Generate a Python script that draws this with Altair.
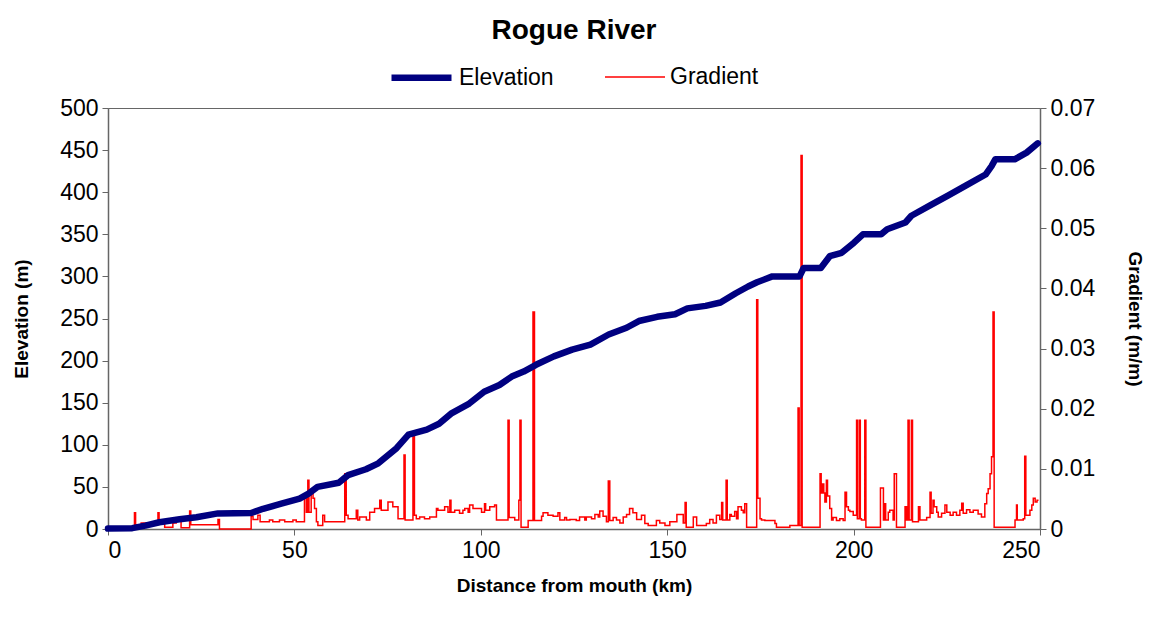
import altair as alt
import pandas as pd

# Elevation profile (km from mouth, metres)
elev_km = [0, 6.5, 10, 13.8, 19.2, 23.7, 29.5, 38.4, 41.6, 46.5, 51.4, 53.8, 56.2, 61.9,
           64.4, 69.2, 72.5, 77.4, 80.6, 85.5, 88.8, 92, 96.9, 100.9, 105, 108.3, 111.5,
           114.8, 119.6, 124.5, 129.4, 134.3, 139.1, 142.4, 147.3, 152.1, 155.4, 160.3,
           164.3, 168.4, 171.7, 174.1, 178.2, 185.5, 186.6, 191.2, 193.6, 196.8, 200.1,
           202.5, 207.4, 209, 213.9, 215.5, 220.4, 225.3, 230.2, 235.4, 237, 238, 243.2,
           246.4, 249.4]
elev_m = [0.5, 1, 4, 8, 11.5, 14, 18.5, 19, 24, 30, 36, 42, 50, 55,
          64, 71, 78, 96, 112, 118, 125, 137, 149, 163, 171, 181, 187,
          195, 205, 213, 219, 231, 239, 247, 252, 255, 262, 265,
          269, 280, 288, 293, 300, 300, 310, 310, 324, 328, 340,
          350, 350, 356, 364, 372, 384, 396, 408, 421, 431, 439, 439,
          447, 458]

# Gradient (m/m), stepwise by reach start (km)
grad_km = [0, 7.1, 7.4, 8.9, 13.4, 13.7, 15.2, 17.4, 18.3, 19.6, 21.9, 22.2, 29.5, 29.9,
           38.4, 38.9, 40.2, 40.8, 43.3, 44.2, 46.0, 47.4, 49.6, 50.5, 52.7, 53.2, 53.6,
           53.9, 54.5, 55.0, 55.4, 55.9, 56.3, 57.6, 58.1, 63.5, 63.9, 64.4, 66.6, 67.0,
           67.5, 69.3, 70.2, 71.5, 72.9, 73.3, 75.1, 76.4, 77.8, 79.4, 79.7, 81.8, 82.2,
           82.7, 83.6, 84.9, 86.3, 88.1, 88.5, 90.3, 91.2, 91.7, 92.0, 93.0, 94.3, 95.2,
           95.7, 96.6, 97.0, 97.9, 100.2, 101.0, 101.3, 102.4, 103.7, 104.2, 107.3, 107.6,
           109.1, 110.2, 110.5, 110.8, 112.7, 114.0, 114.4, 116.3, 116.7, 118.0, 119.4,
           120.7, 121.2, 122.5, 123.0, 123.9, 125.6, 126.5, 127.9, 128.3, 129.7, 130.6,
           131.5, 131.9, 132.8, 133.7, 134.2, 134.6, 135.5, 136.4, 137.3, 138.2, 139.1,
           139.9, 140.8, 141.8, 143.1, 144.0, 144.9, 147.1, 148.0, 149.4, 150.7, 152.6,
           154.3, 154.8, 155.1, 157.0, 157.9, 160.5, 161.4, 162.3, 163.2, 164.1, 164.6,
           164.9, 165.8, 166.1, 166.8, 167.2, 168.1, 168.6, 169.0, 169.9, 170.4, 170.8,
           171.3, 174.0, 174.3, 174.9, 175.3, 176.2, 178.9, 179.3, 182.9, 185.1, 185.4,
           185.9, 186.2, 191.0, 191.3, 191.7, 192.0, 192.3, 192.7, 193.0, 193.6, 194.1,
           194.5, 195.4, 196.3, 197.2, 197.7, 198.1, 198.6, 199.0, 199.9, 200.8, 201.0,
           201.5, 201.8, 202.1, 203.0, 203.3, 207.2, 208.0, 208.4, 208.6, 209.3, 209.7,
           210.6, 210.9, 211.5, 213.8, 214.2, 214.6, 214.9, 215.5, 215.8, 217.4, 217.8,
           219.6, 220.5, 220.8, 221.3, 221.6, 222.3, 222.7, 223.6, 224.5, 225.0, 225.9,
           226.7, 227.6, 228.5, 229.0, 229.4, 230.3, 231.2, 232.1, 233.4, 234.3, 235.2,
           235.7, 236.1, 236.6, 237.0, 237.4, 237.7, 243.3, 243.7, 243.9, 245.5, 245.9,
           246.2, 247.3, 247.8, 248.2, 248.7, 249.2, 249.6]
grad_val = [0, 0.0027, 0.0007, 0.001, 0.0027, 0.0015, 0.0003, 0.001, 0.0015, 0.0002, 0.003, 0.0007, 0.0016, 0,
            0.0021, 0.0016, 0.0023, 0.0012, 0.0015, 0.0012, 0.0015, 0.0012, 0.0015, 0.0012, 0.0056, 0.0028, 0.0081,
            0.0028, 0.0062, 0.0051, 0.0034, 0.0012, 0.0006, 0.0023, 0.0012, 0.0092, 0.0023, 0.0017, 0.0031, 0.0015,
            0.002, 0.0015, 0.0028, 0.0034, 0.0048, 0.0031, 0.0045, 0.0037, 0.0017, 0.0123, 0.0015, 0.0154, 0.0023,
            0.0017, 0.002, 0.0017, 0.002, 0.0034, 0.0031, 0.0037, 0.0028, 0.0048, 0.0028, 0.0031, 0.0026, 0.0031,
            0.0034, 0.0028, 0.004, 0.0034, 0.0028, 0.0042, 0.0031, 0.0037, 0.004, 0.0015, 0.0181, 0.0019,
            0.0015, 0.0048, 0.0181, 0.0003, 0.0014, 0.0361, 0.0014, 0.0021, 0.0027, 0.0023, 0.0021,
            0.0027, 0.0015, 0.0019, 0.0015, 0.0016, 0.0014, 0.002, 0.0015, 0.002, 0.0017, 0.0024,
            0.002, 0.003, 0.0021, 0.0012, 0.008, 0.0014, 0.0019, 0.0015, 0.001, 0.002, 0.0024,
            0.0034, 0.0027, 0.0016, 0.0023, 0.0009, 0.0006, 0.0014, 0.001, 0.0006, 0.0012, 0.0024,
            0.001, 0.0044, 0.0003, 0.002, 0.0006, 0.0009, 0.0016, 0.001, 0.0023, 0.0016, 0.0044,
            0.0015, 0.0081, 0.0015, 0.0024, 0.0021, 0.0029, 0.0017, 0.0037, 0.0031, 0.0027, 0.0042,
            0.0003, 0.0381, 0.0051, 0.0017, 0.0015, 0.0014, 0.0009, 0.0003, 0.0006, 0.0201, 0.0006,
            0.0621, 0.0003, 0.0092, 0.006, 0.0075, 0.006, 0.0045, 0.0081, 0.0055, 0.0034, 0.0015,
            0.0019, 0.0014, 0.0017, 0.0014, 0.0061, 0.0037, 0.0031, 0.0029, 0.0023, 0.0181, 0.0017,
            0.0181, 0.0017, 0.0015, 0.0181, 0.0003, 0.0068, 0.0015, 0.0042, 0.0015, 0.0028, 0.0031,
            0.0015, 0.0092, 0.0003, 0.0037, 0.0015, 0.0181, 0.0015, 0.0181, 0.0012, 0.0037, 0.0015,
            0.0019, 0.0061, 0.0026, 0.0048, 0.0037, 0.0028, 0.002, 0.0026, 0.004, 0.0028, 0.0023,
            0.0028, 0.0023, 0.0031, 0.0043, 0.0026, 0.0032, 0.0028, 0.0031, 0.0025, 0.002, 0.0042,
            0.0059, 0.0067, 0.0092, 0.012, 0.0361, 0.0003, 0.0015, 0.004, 0.0015, 0.0017, 0.0121,
            0.0023, 0.0031, 0.004, 0.0051, 0.0045, 0.0048, 0.0048]

series_names = ["Elevation", "Gradient"]
series_colors = ["#000080", "#FF0000"]
series_widths = [6.5, 1.5]
x_ticks = [0, 50, 100, 150, 200, 250]
elev_ticks = list(range(0, 501, 50))
grad_ticks = [0, 0.01, 0.02, 0.03, 0.04, 0.05, 0.06, 0.07]

elev_df = pd.DataFrame({"km": elev_km, "value": elev_m, "series": series_names[0]})
grad_df = pd.DataFrame({"km": grad_km, "value": grad_val, "series": series_names[1]})

FONT = "Liberation Sans"
AX = "#666666"

color_scale = alt.Scale(domain=series_names, range=series_colors)
width_scale = alt.Scale(domain=series_names, range=series_widths)
legend = alt.Legend(orient="none", legendX=280, legendY=-64, direction="horizontal", title=None,
                    symbolType="stroke", symbolSize=3600, labelFontSize=23, labelFont=FONT,
                    columnPadding=48, labelOffset=4)

x_enc = alt.X("km:Q", scale=alt.Scale(domain=[0, 250], nice=False, zero=False),
              axis=alt.Axis(values=x_ticks, title="Distance from mouth (km)", grid=False,
                            titlePadding=14))


def sw():
    return alt.StrokeWidth("series:N", scale=width_scale, legend=legend)


elev = alt.Chart(elev_df).mark_line(strokeCap="round", strokeJoin="round").encode(
    x=x_enc,
    y=alt.Y("value:Q", scale=alt.Scale(domain=[0, 500], nice=False),
            axis=alt.Axis(values=elev_ticks, title="Elevation (m)", orient="left", grid=False,
                          titlePadding=28)),
    color=alt.Color("series:N", scale=color_scale, legend=legend),
    strokeWidth=sw(),
)

grad = alt.Chart(grad_df).mark_line(interpolate="step-after").encode(
    x=x_enc,
    y=alt.Y("value:Q", scale=alt.Scale(domain=[0, 0.07], nice=False),
            axis=alt.Axis(values=grad_ticks, title="Gradient (m/m)", orient="right", grid=False,
                          titlePadding=30,
                          labelExpr="datum.value == 0 ? '0' : format(datum.value, '.2f')")),
    color=alt.Color("series:N", scale=color_scale, legend=legend),
    strokeWidth=sw(),
)

chart = alt.layer(grad, elev).resolve_scale(y="independent").properties(
    width=932, height=421,
    title=alt.TitleParams("Rogue River", fontSize=28, fontWeight="bold", font=FONT,
                          anchor="middle", offset=-1),
    autosize=alt.AutoSizeParams(type="none"),
    padding={"left": 108, "top": 108, "right": 109, "bottom": 92},
).configure_view(stroke=AX, strokeWidth=1).configure_axis(
    labelFont=FONT, labelFontSize=23, labelColor="black", labelPadding=4,
    titleFont=FONT, titleFontSize=19, titleFontWeight="bold", titleColor="black",
    domainColor=AX, tickColor=AX, tickSize=6, domainWidth=1.5,
)

chart.save("out.html", embed_options={"renderer": "svg", "actions": False})
